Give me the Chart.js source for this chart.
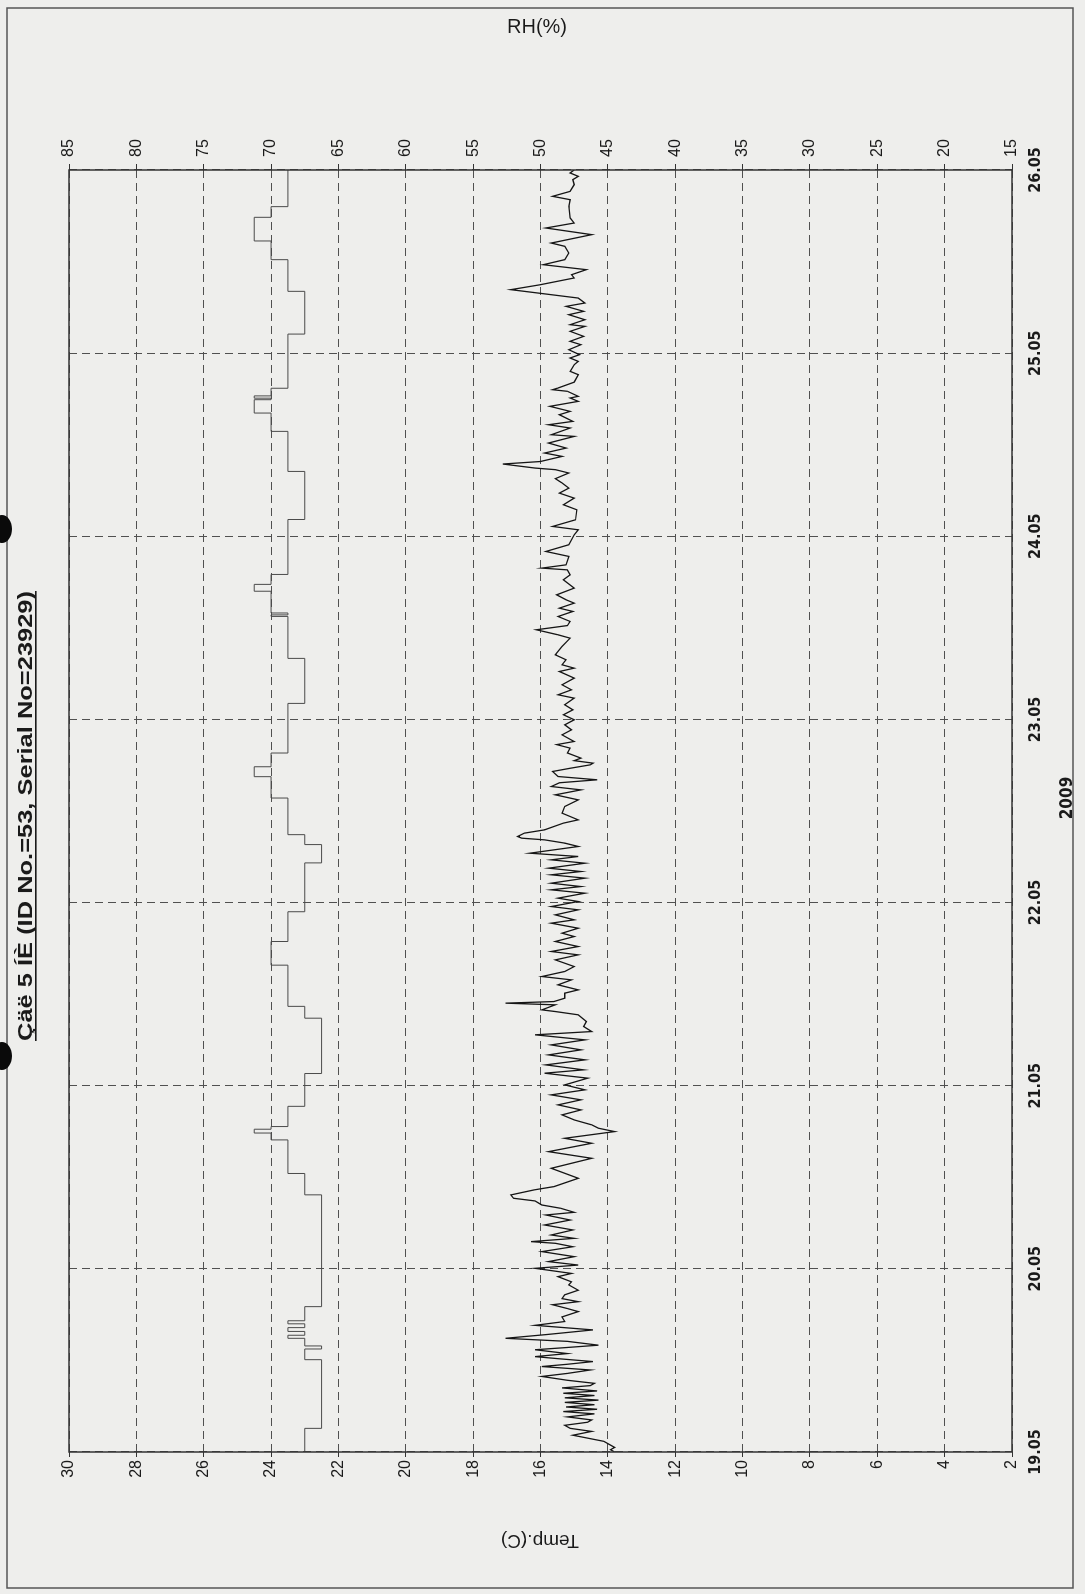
<!DOCTYPE html>
<html lang="en">
<head>
<meta charset="UTF-8">
<title>Çäë 5 ÍÈ (ID No.=53, Serial No=23929)</title>
<style>
  html, body { margin: 0; padding: 0; background: #eeeeec; overflow: hidden; }
  /* the printed sheet is scanned sideways, so the whole chart is turned 90deg */
  #page {
    position: absolute; left: 0; top: 0;
    width: 1594px; height: 1085px;
    transform-origin: 0 0;
    transform: translateY(1594px) rotate(-90deg);
  }
</style>
</head>
<body>
<div id="page"><canvas id="logChart" width="1594" height="1085"></canvas></div>

<script src="https://cdn.jsdelivr.net/npm/chart.js"></script>
<script>
// date labels, one per day (x is hours from 19.05 00:00)
const dateLabels = ['19.05', '20.05', '21.05', '22.05', '23.05', '24.05', '25.05', '26.05'];

// temperature logger, 0.5 C resolution, each value holds from its time on
const tempHours = [0, 3.1, 12.1, 13.5, 13.9, 14.9, 15.3, 15.8, 16.3, 16.8, 17.2, 19.05, 33.7, 36.5, 40.9,
  41.8, 42.3, 42.65, 45.3, 49.6, 56.85, 58.4, 63.8, 66.9, 70.8, 77.2, 79.6, 80.9, 85.7, 88.5,
  89.8, 91.6, 98.1, 104.0, 109.5, 109.7, 109.95, 112.8, 113.7, 115.0, 122.2, 128.5, 133.75, 136.15, 137.9,
  138.1, 138.4, 139.4, 146.5, 152.1, 156.25, 158.7, 161.8, 163.2, 168];
const tempValues = [23.0, 22.5, 23.0, 22.5, 23.0, 23.5, 23.0, 23.5, 23.0, 23.5, 23.0, 22.5, 23.0, 23.5, 24.0,
  24.5, 24.0, 23.5, 23.0, 22.5, 23.0, 23.5, 24.0, 23.5, 23.0, 22.5, 23.0, 23.5, 24.0, 24.5,
  24.0, 23.5, 23.0, 23.5, 24.0, 23.5, 24.0, 24.5, 24.0, 23.5, 23.0, 23.5, 24.0, 24.5, 24.0,
  24.5, 24.0, 23.5, 23.0, 23.5, 24.0, 24.5, 24.0, 23.5, 23.5];

// relative humidity
const rhHours = [0.0, 0.3, 0.6, 1.4, 2.2, 2.7, 3.1, 3.5, 3.9, 4.2, 4.6, 5.0, 5.3, 5.6, 5.9, 6.2, 6.5, 6.8, 7.1, 7.4,
  7.7, 8.0, 8.4, 8.7, 9.0, 9.4, 9.9, 10.3, 10.75, 11.2, 11.5, 11.85, 12.2, 12.5, 12.9, 13.4, 13.7, 14.0, 14.5, 14.9,
  15.4, 16.0, 16.6, 17.1, 17.7, 18.4, 18.8, 19.3, 19.7, 20.1, 20.6, 21.2, 21.9,
  22.3, 22.98, 23.4, 24.07, 24.5, 24.95, 25.6, 26.26, 26.9, 27.35, 27.57, 28.0, 28.44, 29.1, 29.75, 30.4,
  31.06, 31.41, 31.94, 32.37, 32.9, 33.25, 33.69, 34.34, 34.78, 35.87, 37.18, 38.49, 39.36, 40.46, 41.11, 41.99,
  42.43, 42.87, 43.52, 44.18, 44.83, 45.49, 46.15, 46.8, 47.46, 48.11, 48.99, 49.64, 50.08, 50.73, 51.39, 52.04,
  52.7, 53.35, 54.01, 54.67, 55.1, 55.76, 56.41, 57.29, 57.72, 57.94, 58.6, 58.82, 59.03, 59.47, 60.13, 60.56,
  61.22, 61.87, 62.31, 62.97, 63.62,
  64.49, 65.15, 65.59, 66.24, 66.9, 67.55, 67.99, 68.64, 69.3, 69.74, 70.39, 71.05, 71.48, 72.14, 72.58, 73.23,
  73.67, 74.1, 74.54, 75.2, 75.64, 76.07, 76.51, 77.16, 77.6, 78.04, 78.47, 79.35, 79.79, 80.22, 80.44, 80.66,
  81.1, 81.53, 82.41, 82.84, 83.72, 84.59,
  85.46, 86.12, 86.77, 87.21, 87.7, 88.09, 88.52, 89.18, 89.6, 90.05, 90.27, 90.6, 90.93, 91.6, 92.24, 92.7,
  93.11, 93.98, 94.64, 95.29, 95.95, 96.61, 97.26, 97.92, 98.79, 99.23, 99.88, 100.54, 101.41, 102.28, 102.72,
  103.16, 103.82, 104.47, 105.56,
  106.65, 107.09, 107.75, 108.3, 108.84, 109.49, 110.15, 110.58, 111.24, 111.68, 112.33, 113.21, 114.3, 114.95,
  115.6, 115.83, 116.26, 117.36, 118.01, 118.89, 120.2, 120.85, 121.29, 122.16, 123.47, 124.13, 125.0, 125.66, 126.31,
  126.98, 127.55, 128.29, 128.73, 128.94, 129.47, 129.8, 130.47, 130.91, 131.56, 132.22, 133.09, 133.31, 134.19,
  134.62, 135.06, 135.93, 136.37, 137.03, 137.68, 138.12, 138.34, 139.0, 139.21, 139.43, 140.2, 141.18, 141.61,
  142.48, 142.92, 143.36, 143.8, 144.45, 145.11, 145.55, 146.2, 146.86, 147.51,
  147.73, 148.38, 149.04, 149.48, 150.13, 150.57, 151.22, 151.44, 152.32, 152.97, 153.85, 154.28, 154.94, 155.59,
  156.25, 157.12, 158.0, 158.43, 159.53, 160.4, 161.05, 161.71, 163.24, 164.11, 164.55, 165.2, 166.08, 166.74,
  167.17, 167.61, 168.0];
const rhValues = [44.5, 44.8, 44.5, 45.3, 47.6, 46.2, 47.8, 48.2, 46.5, 46.2, 48.0, 46.0, 48.3, 45.8, 48.1, 46.0, 48.2, 45.7, 48.2, 46.0,
  48.3, 45.8, 48.4, 46.3, 46.0, 48.0, 49.9, 48.0, 46.3, 49.9, 48.0, 46.1, 48.5, 50.4, 48.0, 50.4, 48.0, 45.7, 48.0, 52.6,
  49.5, 46.1, 50.4, 48.2, 48.4, 47.2, 48.0, 49.1, 47.2, 48.4, 48.2, 47.2, 47.9,
  47.7, 48.7, 47.7, 50.4, 47.2, 49.4, 47.5, 49.9, 47.6, 48.9, 50.7, 47.5, 49.2, 47.6, 49.7, 47.8,
  49.6, 47.5, 48.5, 49.9, 50.4, 52.0, 52.2, 50.5, 49.0, 47.2, 49.2, 46.2, 49.4, 46.2, 48.2, 44.5,
  45.7, 46.2, 47.5, 48.4, 47.0, 48.7, 47.0, 49.2, 46.7, 48.2, 46.5, 49.7, 46.8, 49.6, 46.7, 49.4,
  47.0, 49.2, 46.7, 50.4, 46.2, 46.8, 46.6, 47.2, 48.9, 49.9, 48.9, 52.6, 49.0, 48.2, 48.2, 47.2,
  48.7, 47.7, 49.9, 48.2, 47.5,
  48.9, 47.2, 49.2, 47.2, 48.9, 47.5, 48.4, 47.2, 49.2, 47.5, 48.9, 47.2, 49.2, 47.2, 48.7, 46.7,
  49.2, 47.0, 49.2, 46.7, 49.2, 47.0, 49.4, 46.7, 49.2, 47.2, 50.8, 47.2, 48.2, 49.7, 51.4, 51.7,
  51.2, 49.7, 48.3, 47.2, 48.4, 48.2,
  47.2, 48.9, 47.0, 49.2, 48.6, 45.8, 48.7, 49.1, 47.8, 46.3, 46.1, 47.5, 47.0, 48.0, 47.8, 48.8,
  47.5, 48.4, 47.7, 48.2, 47.5, 48.3, 47.6, 48.2, 47.5, 48.7, 47.7, 48.4, 47.5, 48.6, 47.5,
  48.4, 48.1, 48.9, 48.4,
  47.8, 48.7, 50.3, 48.0, 47.8, 48.7, 47.6, 48.6, 47.5, 48.1, 48.8, 47.5, 48.3, 47.8,
  48.0, 49.9, 48.1, 47.9, 49.6, 47.9, 47.5, 47.2, 49.1, 47.4, 47.3, 48.3, 47.5, 48.6, 47.9,
  48.4, 48.9, 47.9, 48.9, 50.4, 52.8, 50.0, 48.4, 49.7, 48.1, 49.4, 47.5, 49.2, 47.8,
  49.4, 47.6, 48.6, 47.8, 49.3, 47.2, 47.8, 47.2, 48.0, 49.1, 48.7, 47.5, 47.2, 47.8,
  47.5, 47.2, 47.8, 47.1, 47.9, 47.0, 47.8, 46.8, 47.8, 46.7,
  47.8, 46.7, 47.9, 46.8, 48.1, 46.7, 47.2, 48.2, 52.2, 50.0, 47.5, 47.7, 46.6, 49.8,
  48.2, 47.9, 48.2, 49.2, 46.2, 49.6, 47.5, 47.8, 47.9, 47.8, 49.1, 47.8, 47.5, 47.6,
  47.2, 47.8, 47.5];

const FONT = "'Liberation Sans', Arial, sans-serif";
const NARROW = "'Liberation Sans Narrow', 'DejaVu Sans Condensed', sans-serif";

// frame, title, axis names and the two punch holes of the sheet
const sheet = {
  id: 'sheet',
  afterDraw(chart) {
    const ctx = chart.ctx;
    const a = chart.chartArea;
    ctx.save();
    ctx.strokeStyle = '#333';
    ctx.lineWidth = 1.5;
    ctx.strokeRect(a.left, a.top, a.right - a.left, a.bottom - a.top);

    ctx.strokeStyle = '#555';
    ctx.lineWidth = 1.5;
    ctx.strokeRect(6, 7, 1580, 1066);

    // title, bold and underlined
    const title = 'Çäë 5 ÍÈ (ID No.=53, Serial No=23929)';
    ctx.fillStyle = '#1a1a1a';
    ctx.font = 'bold 21px ' + FONT;
    const w = ctx.measureText(title).width;
    const sx = 450 / w;
    ctx.save();
    ctx.translate(778, 32);
    ctx.scale(sx, 1);
    ctx.textAlign = 'center';
    ctx.textBaseline = 'alphabetic';
    ctx.fillText(title, 0, 0);
    ctx.fillRect(-w / 2, 3, w, 1.6);
    ctx.restore();

    ctx.font = '19px ' + FONT;
    ctx.textAlign = 'center';
    ctx.textBaseline = 'middle';
    ctx.save();
    ctx.translate(54, 540);
    ctx.rotate(-Math.PI / 2);
    ctx.fillText('Temp.(C)', 0, 0);
    ctx.restore();

    ctx.font = '20px ' + FONT;
    ctx.save();
    ctx.translate(1567, 537);
    ctx.rotate(Math.PI / 2);
    ctx.fillText('RH(%)', 0, 0);
    ctx.restore();

    ctx.font = 'bold 17px ' + NARROW;
    ctx.fillText('2009', 796, 1068);

    ctx.fillStyle = '#0a0a0a';
    [1065, 538].forEach(u => {
      ctx.beginPath();
      ctx.ellipse(u, 2, 14, 10, 0, 0, Math.PI * 2);
      ctx.fill();
    });
    ctx.restore();
  }
};

new Chart(document.getElementById('logChart'), {
  type: 'line',
  data: {
    datasets: [
      {
        label: 'Temp.(C)',
        data: tempHours.map((h, i) => ({ x: h, y: tempValues[i] })),
        yAxisID: 'y',
        stepped: 'before',
        borderColor: '#4a4a4a',
        borderWidth: 1,
        pointRadius: 0
      },
      {
        label: 'RH(%)',
        data: rhHours.map((h, i) => ({ x: h, y: rhValues[i] })),
        yAxisID: 'rh',
        borderColor: '#151515',
        borderWidth: 1.3,
        pointRadius: 0,
        tension: 0
      }
    ]
  },
  options: {
    responsive: false,
    animation: false,
    devicePixelRatio: 1,
    layout: { padding: { top: 69, left: 0, right: 0, bottom: 0 } },
    plugins: { legend: { display: false }, title: { display: false }, tooltip: { enabled: false } },
    scales: {
      x: {
        type: 'linear', min: 0, max: 168,
        afterFit(s) { s.height = 73; },
        ticks: {
          stepSize: 24, autoSkip: false, maxRotation: 0, padding: 14, color: '#1a1a1a',
          font: { family: NARROW, size: 16, weight: 'bold' },
          callback: v => dateLabels[v / 24] || ''
        },
        grid: { color: '#505050', lineWidth: 1, drawTicks: false },
        border: { display: false, dash: [8, 5] }
      },
      y: {
        type: 'linear', position: 'left', min: 2, max: 30,
        afterFit(s) { s.width = 142; },
        ticks: { stepSize: 2, padding: 3, color: '#1a1a1a', font: { family: FONT, size: 16 } },
        grid: { color: '#505050', lineWidth: 1, tickLength: 5, tickColor: '#333', tickBorderDash: [] },
        border: { display: false, dash: [8, 5] }
      },
      rh: {
        type: 'linear', position: 'right', min: 15, max: 85,
        afterFit(s) { s.width = 170; },
        ticks: { stepSize: 5, padding: 7, color: '#1a1a1a', font: { family: FONT, size: 16 } },
        grid: { drawOnChartArea: false, tickLength: 6, tickColor: '#333' },
        border: { display: false }
      }
    }
  },
  plugins: [sheet]
});
</script>
</body>
</html>
